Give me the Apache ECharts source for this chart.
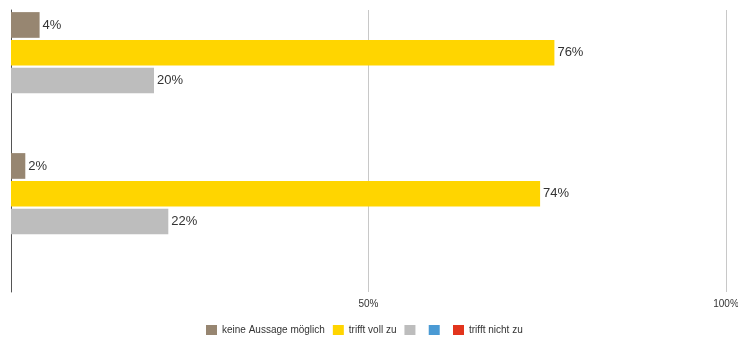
<!DOCTYPE html>
<html>
<head>
<meta charset="utf-8">
<script src="https://cdn.jsdelivr.net/npm/echarts@6/dist/echarts.min.js"></script>
<style>html,body{margin:0;padding:0;background:#fff;}#c{width:738px;height:338px;}</style>
</head>
<body>
<div id="c"></div>
<script>
var categories = ['Frage 1', 'Frage 2'];
var seriesNames = ['keine Aussage möglich', 'trifft voll zu', '', '', 'trifft nicht zu'];
var seriesColors = ['#978671', '#FFD500', '#BDBDBD', '#4A9AD4', '#E2341D'];
var keineAussage = [4, 2];
var trifftVollZu = [76, 74];
var grau = [20, 22];
var blau = [0, 0];
var trifftNichtZu = [0, 0];
var xTicks = [0, 50, 100];

var values = [keineAussage, trifftVollZu, grau, blau, trifftNichtZu];
var ids = ['s0', 's1', 's2', 's3', 's4'];
var nameMap = {};
ids.forEach(function (id, i) { nameMap[id] = seriesNames[i]; });

var font = '"Liberation Sans", Arial, Helvetica, sans-serif';
var chart = echarts.init(document.getElementById('c'), null, {renderer: 'canvas'});
chart.setOption({
  animation: false,
  textStyle: {fontFamily: font},
  grid: {left: 11, right: 12, top: 10, bottom: 46, containLabel: false, outerBoundsMode: 'none'},
  legend: {
    data: ids.map(function (id, i) {
      return seriesNames[i] ? {name: id} : {name: id, textStyle: {fontSize: 1}};
    }),
    left: 206,
    bottom: 3,
    padding: 0,
    itemWidth: 11,
    itemHeight: 10,
    itemGap: 8,
    icon: 'rect',
    formatter: function (n) { return nameMap[n] || ' '; },
    textStyle: {fontSize: 10, color: '#333', fontFamily: font}
  },
  xAxis: {
    type: 'value',
    min: xTicks[0],
    max: xTicks[xTicks.length - 1],
    interval: xTicks[1] - xTicks[0],
    axisLine: {show: false},
    axisTick: {show: false},
    splitLine: {show: true, lineStyle: {color: '#c8c8c8', width: 1}},
    axisLabel: {
      margin: 7,
      fontSize: 10,
      color: '#333',
      fontFamily: font,
      formatter: function (v) { return v === 0 ? '' : v + '%'; }
    }
  },
  yAxis: {
    type: 'category',
    data: categories,
    inverse: true,
    axisLine: {show: true, lineStyle: {color: '#555', width: 1}},
    axisTick: {show: false},
    axisLabel: {show: false},
    splitLine: {show: false}
  },
  series: ids.map(function (id, i) {
    return {
      id: id,
      name: id,
      type: 'bar',
      data: values[i],
      barGap: '8%',
      barCategoryGap: '3%',
      itemStyle: {color: seriesColors[i]},
      label: {
        show: true,
        position: 'right',
        distance: 3,
        fontSize: 13,
        color: '#333',
        fontFamily: font,
        formatter: function (p) { return p.value ? p.value + '%' : ''; }
      }
    };
  })
});
</script>
</body>
</html>
